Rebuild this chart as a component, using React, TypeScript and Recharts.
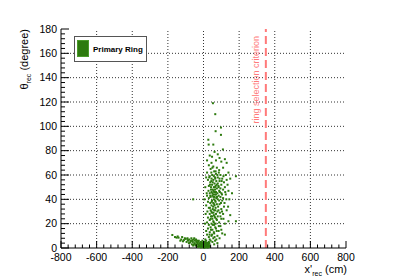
import { ScatterChart, Scatter, XAxis, YAxis, ReferenceLine, Legend, Label } from "recharts";

// axis ranges and labelled ticks
const X_MAJOR = [-800, -600, -400, -200, 0, 200, 400, 600, 800];
const Y_MAJOR = [0, 20, 40, 60, 80, 100, 120, 140, 160, 180];
const X_MINOR_STEP = 40;
const Y_MINOR_STEP = 4;

const CUT_X = 350;
const CUT_LABEL = "ring selection criterion";
const SERIES_NAME = "Primary Ring";

// x'_rec (cm), theta_rec (degree)
const upperTail: [number, number][] = [
  [53, 119], [66, 110], [98, 99], [68, 96], [98, 93], [27, 89], [29, 85], [55, 85],
  [109, 81], [62, 79], [80, 77], [35, 76], [48, 75], [90, 74], [120, 73], [20, 72],
  [70, 72], [100, 71], [45, 70], [130, 70],
];

const ringBand: [number, number][] = [
  [30, 68], [55, 67], [75, 66], [110, 66], [40, 65], [88, 64], [60, 63], [20, 62], [140, 62], [70, 61],
  [95, 60], [50, 60], [125, 60], [35, 59], [80, 58], [65, 58], [105, 57], [45, 57], [182, 59], [150, 57],
  [25, 56], [55, 56], [72, 55], [90, 55], [115, 54], [38, 54], [62, 53], [80, 53], [48, 52], [100, 52],
  [135, 52], [30, 51], [68, 51], [58, 50], [85, 50], [120, 50], [42, 50], [75, 49], [95, 49], [52, 48],
  [65, 48], [110, 48], [28, 47], [88, 47], [140, 47], [45, 46], [60, 46], [78, 45], [35, 45], [100, 45],
  [55, 44], [70, 44], [125, 44], [20, 43], [50, 43], [85, 43], [62, 42], [40, 42], [95, 42], [110, 41],
  [30, 41], [72, 41], [58, 40], [145, 40], [-58, 40], [80, 40], [48, 39], [105, 39], [65, 39], [25, 38],
  [38, 37], [55, 37], [75, 36], [90, 36], [15, 35], [62, 35], [45, 35], [115, 34], [82, 34], [30, 33],
  [68, 33], [52, 32], [100, 32], [40, 31], [130, 31], [60, 31], [78, 30], [22, 30], [92, 29], [48, 29],
  [70, 28], [35, 28], [110, 28], [150, 27], [58, 27], [42, 26], [80, 26], [25, 25], [65, 25], [100, 24],
  [50, 24], [35, 23], [75, 23], [140, 22], [182, 22], [55, 22], [20, 21], [88, 21], [45, 20], [68, 20],
  [120, 20], [30, 19], [60, 19], [95, 18], [40, 17], [25, 16], [70, 16], [50, 15], [85, 14], [15, 14],
  [35, 13], [60, 12], [105, 12], [20, 11], [45, 10], [78, 10], [30, 9], [55, 8], [10, 7], [40, 6],
  [65, 6], [32, 58], [58, 59], [66, 57], [44, 55], [52, 54], [74, 52], [36, 52], [64, 50], [56, 47],
  [42, 48], [70, 46], [50, 45], [64, 44], [38, 43], [56, 42], [68, 38], [46, 38], [60, 36], [54, 34],
  [36, 33], [66, 31], [44, 30], [56, 29], [62, 26], [48, 26], [72, 24], [40, 24], [58, 21], [52, 19],
  [66, 17], [42, 15], [74, 14], [58, 13], [48, 11], [34, 11], [62, 9], [72, 7], [50, 5], [28, 4],
  [60, 3], [44, 62], [68, 63], [50, 66], [86, 62], [78, 60], [90, 57], [102, 55], [84, 51], [92, 46],
  [76, 42], [104, 44], [88, 39], [98, 37], [84, 31], [104, 30], [118, 37], [122, 46], [130, 56], [112, 59],
  [128, 40], [138, 34], [160, 45], [95, 26], [112, 24], [86, 18], [100, 15], [120, 11], [90, 8], [78, 4],
  [10, 50], [5, 40], [12, 28], [8, 20], [18, 45], [15, 58],
];

const forwardBand: [number, number][] = [
  [-175, 10.7], [-160, 9], [-151, 8.5], [-140, 8.5], [-125, 7], [-110, 6.5], [-120, 9], [-100, 7.5],
  [-95, 5], [-90, 8], [-85, 6], [-80, 7], [-75, 4.5], [-70, 6], [-68, 8], [-60, 5], [-55, 7], [-50, 4],
  [-48, 6], [-45, 3], [-40, 5], [-38, 2.5], [-35, 4], [-30, 3], [-28, 5.5], [-25, 2], [-22, 4], [-20, 1.5],
  [-18, 3], [-15, 5], [-12, 1], [-10, 2.5], [-8, 4], [-5, 1.5], [-3, 3], [0, 0.5], [0, 2], [2, 4],
  [5, 1], [6, 3], [8, 5], [10, 0.5], [12, 2], [14, 3.5], [16, 1], [18, 2.5], [20, 4], [22, 0.5],
  [24, 1.5], [25, 3], [28, 2], [30, 5], [32, 1], [35, 7], [-65, 3], [-58, 2], [-52, 8], [-42, 7],
  [-33, 1], [-27, 6], [-15, 0.5], [-6, 6], [3, 0.3], [15, 6], [-26, 1], [-20, 3.5], [-14, 2], [-10, 4.5],
  [-4, 0.8], [1, 3.5], [4, 5], [7, 2], [9, 3.8], [11, 1.5], [13, 4.5], [17, 0.8], [19, 3.2], [21, 1.8],
  [23, 4.2], [26, 0.6], [29, 3.5], [31, 2.2], [33, 4], [36, 1.2], [-32, 4.5], [-36, 6], [-44, 2], [-54, 3],
  [-62, 6.5], [-72, 5.5], [-82, 4], [-88, 6.5], [-105, 8], [-115, 5.5], [-130, 6], [-145, 9.5],
];

const points = [...upperTail, ...ringBand, ...forwardBand].map(([x, y]) => ({ x, y }));

const GREEN = "#2d7a0e";
const RED = "#ff7a7a";
const FONT = "'Liberation Sans', Arial, Helvetica, sans-serif";

const steps = (from: number, to: number, step: number) => {
  const out: number[] = [];
  for (let v = from; v <= to; v += step) out.push(v);
  return out;
};
const X_TICKS = steps(-800, 800, X_MINOR_STEP);
const Y_TICKS = steps(0, 180, Y_MINOR_STEP);

const isMajorX = (v: number) => X_MAJOR.includes(v);
const isMajorY = (v: number) => Y_MAJOR.includes(v);

const BottomTick = ({ x, y, payload }: any) => {
  const major = isMajorX(payload.value);
  return (
    <g>
      <line x1={x} x2={x} y1={y} y2={y - (major ? 7 : 3.5)} stroke="#000" />
      {major && (
        <text x={x} y={y + 13} textAnchor="middle" fontSize={10.5} fontFamily={FONT} fill="#000">
          {payload.value}
        </text>
      )}
    </g>
  );
};

const TopTick = ({ x, y, payload }: any) => (
  <line x1={x} x2={x} y1={y} y2={y + (isMajorX(payload.value) ? 7 : 3.5)} stroke="#000" />
);

const LeftTick = ({ x, y, payload }: any) => {
  const major = isMajorY(payload.value);
  return (
    <g>
      <line x1={x} x2={x + (major ? 8 : 4)} y1={y} y2={y} stroke="#000" />
      {major && (
        <text x={x - 4} y={y + 3.5} textAnchor="end" fontSize={10.5} fontFamily={FONT} fill="#000">
          {payload.value}
        </text>
      )}
    </g>
  );
};

const RightTick = ({ x, y, payload }: any) => (
  <line x1={x} x2={x - (isMajorY(payload.value) ? 8 : 4)} y1={y} y2={y} stroke="#000" />
);

const Marker = (props: any) => (
  <rect x={props.cx - 1} y={props.cy - 1} width={2} height={2} fill={GREEN} />
);

const LegendBox = () => (
  <svg width={73} height={26}>
    <rect x={0.5} y={0.5} width={72} height={25} fill="#fff" stroke="#555" />
    <rect x={3.5} y={4.5} width={11} height={16} fill={GREEN} stroke="#4a9a2a" />
    <text x={19} y={16} fontSize={8} fontWeight="bold" fontFamily={FONT} fill="#000">
      {SERIES_NAME}
    </text>
  </svg>
);

const App = () => (
  <div style={{ position: "absolute", left: 0, top: 0, background: "#fff" }}>
    <ScatterChart width={407} height={277} margin={{ top: 29, right: 61, bottom: 0, left: 0 }}>
      <XAxis
        dataKey="x"
        type="number"
        domain={[-800, 800]}
        ticks={X_TICKS}
        interval={0}
        tickSize={0}
        tickMargin={0}
        tick={<BottomTick />}
        height={29}
        stroke="#000"
      >
        <Label
          content={({ viewBox }: any) => (
            <text x={viewBox.x + viewBox.width + 1} y={viewBox.y + 25} textAnchor="end" fontSize={11} fontFamily={FONT}>
              x'<tspan fontSize={7} dy={3}>rec</tspan>
              <tspan dy={-3}> (cm)</tspan>
            </text>
          )}
        />
      </XAxis>
      <XAxis
        xAxisId="top"
        orientation="top"
        type="number"
        domain={[-800, 800]}
        ticks={X_TICKS}
        interval={0}
        tickSize={0}
        tickMargin={0}
        tick={<TopTick />}
        height={0}
        stroke="#000"
      />
      <YAxis
        dataKey="y"
        type="number"
        domain={[0, 180]}
        ticks={Y_TICKS}
        interval={0}
        tickSize={0}
        tickMargin={0}
        tick={<LeftTick />}
        width={61}
        stroke="#000"
      >
        <Label
          content={({ viewBox }: any) => {
            const tx = 28;
            const ty = viewBox.y;
            return (
              <text transform={`rotate(-90 ${tx} ${ty})`} x={tx} y={ty} textAnchor="end" fontSize={11} fontFamily={FONT}>
                θ<tspan fontSize={7} dy={3}>rec</tspan>
                <tspan dy={-3}> (degree)</tspan>
              </text>
            );
          }}
        />
      </YAxis>
      <YAxis
        yAxisId="right"
        orientation="right"
        type="number"
        domain={[0, 180]}
        ticks={Y_TICKS}
        interval={0}
        tickSize={0}
        tickMargin={0}
        tick={<RightTick />}
        width={0}
        stroke="#000"
      />
      {X_MAJOR.slice(1, -1).map((v) => (
        <ReferenceLine key={`gx${v}`} x={v} stroke="#333" strokeDasharray="1 2" />
      ))}
      {Y_MAJOR.slice(1, -1).map((v) => (
        <ReferenceLine key={`gy${v}`} y={v} stroke="#333" strokeDasharray="1 2" />
      ))}
      <ReferenceLine
        x={CUT_X}
        stroke={RED}
        strokeWidth={2}
        strokeDasharray="8 4"
        label={(p: any) => {
          const tx = p.viewBox.x - 7;
          const ty = p.viewBox.y + 7;
          return (
            <text transform={`rotate(-90 ${tx} ${ty})`} x={tx} y={ty} textAnchor="end" fontSize={9} fontFamily={FONT} fill={RED}>
              {CUT_LABEL}
            </text>
          );
        }}
      />
      <Scatter name={SERIES_NAME} data={points} shape={<Marker />} isAnimationActive={false} />
      <Legend
        layout="vertical"
        align="center"
        verticalAlign="middle"
        content={() => <LegendBox />}
        wrapperStyle={{ position: "absolute", left: 74, top: 36, width: 73, height: 26 }}
      />
    </ScatterChart>
  </div>
);

export default App;
